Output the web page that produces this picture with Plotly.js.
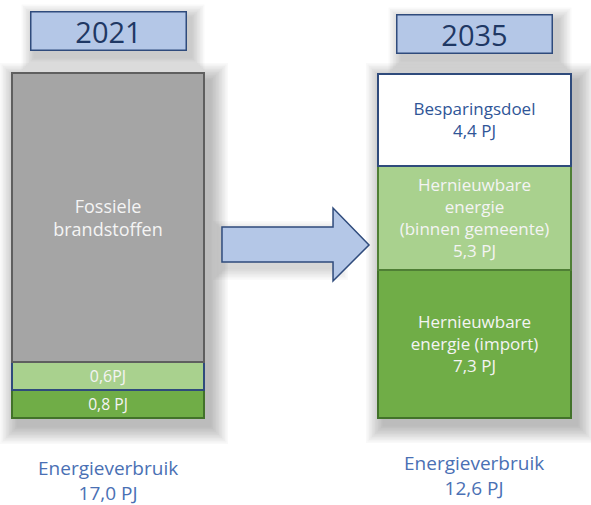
<!DOCTYPE html>
<html>
<head>
<meta charset="utf-8">
<script src="https://cdn.plot.ly/plotly-3.0.1.min.js"></script>
<style>
  body { margin: 0; background: #fff; }
  #chart { width: 591px; height: 505px; }
</style>
</head>
<body>
<div id="chart"></div>
<script>
// data (segment heights as drawn in the picture, in PJ)
var years = ["2021", "2035"];
var baseValues = [1.36, 7.3];
var midValues = [1.38, 5.13];
var topValues = [14.26, 4.54];

var baseLabels = ["0,8 PJ", "Hernieuwbare<br>energie (import)<br>7,3 PJ"];
var midLabels = ["0,6PJ", "Hernieuwbare<br>energie<br>(binnen gemeente)<br>5,3 PJ"];
var topLabels = ["Fossiele<br>brandstoffen", "Besparingsdoel<br>4,4 PJ"];
var totalLabels = ["17,0 PJ", "12,6 PJ"];

var W = 591, H = 505;
var font = "Open Sans, sans-serif";
var boxBlue = "#b4c7e7";
var navy = "#2f4b7c";

function px(x) { return x / W; }
function py(y) { return 1 - y / H; }

var common = {
  x: years,
  type: "bar",
  width: 0.524,
  textposition: "inside",
  insidetextanchor: "middle",
  textangle: 0,
  hoverinfo: "none",
  showlegend: false
};

var baseTrace = Object.assign({}, common, {
  y: baseValues,
  text: baseLabels,
  marker: { color: "#70ad47", line: { color: "#42722a", width: 2 } },
  textfont: { family: font, color: "#f4f4f4", size: [16, 17] }
});
var midTrace = Object.assign({}, common, {
  y: midValues,
  text: midLabels,
  marker: { color: "#a9d18e", line: { color: [navy, "#4f7f35"], width: 2 } },
  textfont: { family: font, color: "#f4f4f4", size: [16, 17] }
});
var topTrace = Object.assign({}, common, {
  y: topValues,
  text: topLabels,
  marker: { color: ["#a5a5a5", "#ffffff"], line: { color: ["#5f5f5f", navy], width: 2 } },
  textfont: { family: font, color: ["#f4f4f4", "#2f5597"], size: [18, 17] }
});

// soft drop shadows
var shapes = [];
function shadow(x0, y0, x1, y1, dx, dy, n, op) {
  for (var i = n; i >= 1; i--) {
    var g = i * 1.5;
    shapes.push({
      type: "rect", xref: "paper", yref: "paper", layer: "below",
      x0: px(x0 + dx - g), x1: px(x1 + dx + g),
      y0: py(y1 + dy + g), y1: py(y0 + dy - g),
      fillcolor: "rgba(0,0,0," + op + ")", line: { width: 0 }
    });
  }
}
shadow(12, 73, 204, 418, 6, 8, 12, 0.022);
shadow(378, 73, 571, 417, 6, 8, 12, 0.022);
shadow(30, 11, 186, 50, 5, 7, 9, 0.022);
shadow(397, 14, 553, 53, 5, 7, 9, 0.022);
shadow(222, 227, 333, 262, 3, 6, 8, 0.018);

// arrow
var arrow = [[222, 227], [333, 227], [333, 208], [369, 245], [333, 281], [333, 262], [222, 262]];
var path = arrow.map(function (p, i) {
  return (i ? "L" : "M") + px(p[0]).toFixed(4) + "," + py(p[1]).toFixed(4);
}).join(" ") + " Z";
shapes.push({
  type: "path", xref: "paper", yref: "paper", path: path,
  fillcolor: boxBlue, line: { color: navy, width: 1.5 }
});

// year boxes and totals, placed at each category index
var annotations = [];
var boxY = [30.5, 33.5];
var bottomY = [480, 475];
years.forEach(function (yr, i) {
  annotations.push({
    x: i, xref: "x", y: py(boxY[i]), yref: "paper", yanchor: "middle",
    text: yr, showarrow: false, width: 154, height: 37,
    bgcolor: boxBlue, bordercolor: navy, borderwidth: 1.5, borderpad: 0,
    font: { family: font, size: 29, color: "#1f3864" }
  });
  annotations.push({
    x: i, xref: "x", y: py(bottomY[i]), yref: "paper", yanchor: "middle",
    text: "Energieverbruik<br>" + totalLabels[i], showarrow: false,
    font: { family: font, size: 19, color: "#4a70b4" }
  });
});

var layout = {
  width: W, height: H,
  margin: { l: 0, r: 0, t: 0, b: 0 },
  barmode: "stack",
  paper_bgcolor: "#ffffff",
  plot_bgcolor: "rgba(0,0,0,0)",
  xaxis: { type: "category", range: [-0.2947, 1.3179], visible: false, fixedrange: true },
  yaxis: { range: [-4.318, 20.602], visible: false, fixedrange: true },
  shapes: shapes,
  annotations: annotations
};

Plotly.newPlot("chart", [baseTrace, midTrace, topTrace], layout, { displayModeBar: false, staticPlot: true });
</script>
</body>
</html>
